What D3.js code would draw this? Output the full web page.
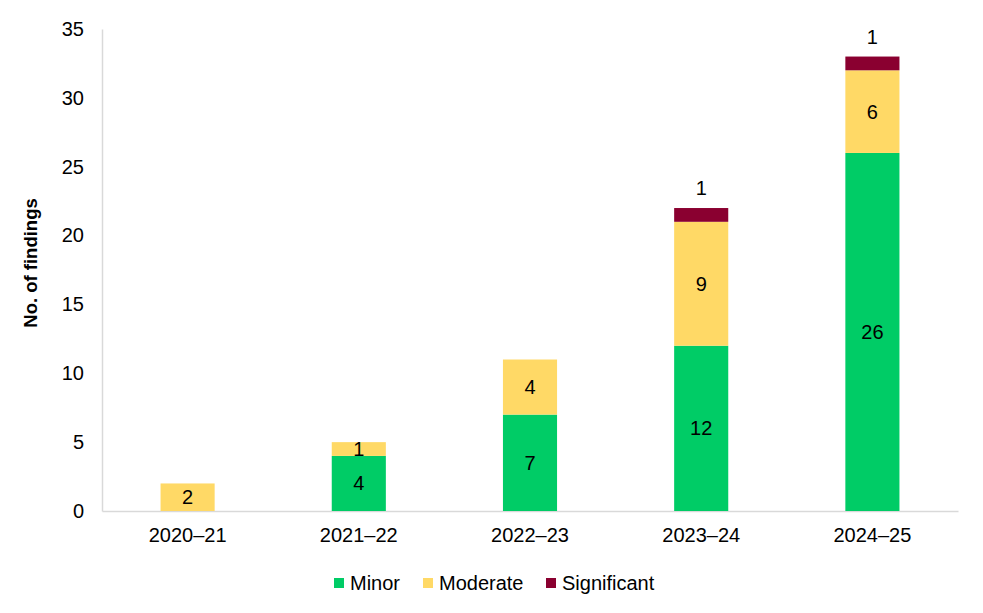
<!DOCTYPE html>
<html>
<head>
<meta charset="utf-8">
<script src="https://cdn.jsdelivr.net/npm/d3@7"></script>
<style>
  body { margin: 0; background: #fff; }
  text { font-family: "Liberation Sans", Arial, sans-serif; fill: #000; }
</style>
</head>
<body>
<svg id="chart" width="983" height="613"></svg>
<script>
// Chart data
var years = ['2020–21', '2021–22', '2022–23', '2023–24', '2024–25'];
var series = ['Minor', 'Moderate', 'Significant'];
var minor = [0, 4, 7, 12, 26];
var moderate = [2, 1, 4, 9, 6];
var significant = [0, 0, 0, 1, 1];
var yTicks = [0, 5, 10, 15, 20, 25, 30, 35];
var colors = ['#00CC66', '#FFD966', '#8A0030'];

var svg = d3.select('#chart');
var margin = {left: 102, right: 25, top: 29, bottom: 102};
var width = 983 - margin.left - margin.right;
var height = 613 - margin.top - margin.bottom;

var g = svg.append('g')
    .attr('transform', 'translate(' + margin.left + ',' + margin.top + ')');

var x = d3.scaleBand().domain(years).range([0, width]).paddingInner(0.684).paddingOuter(0.342);
var y = d3.scaleLinear().domain([0, 35]).range([height, 0]);

// Build rows for the stack
var rows = years.map(function (yr, i) {
    return {year: yr, Minor: minor[i], Moderate: moderate[i], Significant: significant[i]};
});
var stacked = d3.stack().keys(series)(rows);

// Y axis
var yAxis = g.append('g')
    .call(d3.axisLeft(y).tickValues(yTicks).tickSize(0).tickPadding(18));
yAxis.select('.domain').attr('stroke', '#d9d9d9').attr('stroke-width', 1.5);
yAxis.selectAll('text').attr('font-size', '20px').attr('font-family', '"Liberation Sans", Arial, sans-serif');

// X axis
var xAxis = g.append('g')
    .attr('transform', 'translate(0,' + height + ')')
    .call(d3.axisBottom(x).tickSize(0).tickPadding(17));
xAxis.select('.domain').attr('stroke', '#d9d9d9').attr('stroke-width', 1.5);
xAxis.selectAll('text').attr('font-size', '20px').attr('font-family', '"Liberation Sans", Arial, sans-serif');

// Bars
var layers = g.selectAll('.layer')
    .data(stacked)
    .enter()
    .append('g')
    .attr('class', 'layer')
    .attr('fill', function (d, i) { return colors[i]; });

layers.selectAll('rect')
    .data(function (d) { return d; })
    .enter()
    .append('rect')
    .attr('x', function (d) { return x(d.data.year); })
    .attr('width', x.bandwidth())
    .attr('y', function (d) { return y(d[1]); })
    .attr('height', function (d) { return y(d[0]) - y(d[1]); });

// Value labels
layers.each(function (layer, li) {
    d3.select(this).selectAll('text')
        .data(layer.filter(function (d) { return d[1] - d[0] > 0; }))
        .enter()
        .append('text')
        .attr('x', function (d) { return x(d.data.year) + x.bandwidth() / 2; })
        .attr('y', function (d) {
            // Significant labels sit above the bar
            if (li === 2) return y(d[1]) - 20;
            return (y(d[0]) + y(d[1])) / 2;
        })
        .attr('dy', '.35em')
        .attr('text-anchor', 'middle')
        .attr('font-size', '20px')
        .style('fill', '#000')
        .text(function (d) { return d[1] - d[0]; });
});

// Y axis title
svg.append('text')
    .attr('transform', 'translate(31,263) rotate(-90)')
    .attr('text-anchor', 'middle')
    .attr('dy', '.35em')
    .attr('font-size', '18.5px')
    .attr('font-weight', 'bold')
    .text('No. of findings');

// Legend
var legendX = [334, 423, 546];
var legend = svg.append('g').selectAll('g')
    .data(series)
    .enter()
    .append('g')
    .attr('transform', function (d, i) { return 'translate(' + legendX[i] + ',583)'; });
legend.append('rect')
    .attr('x', 0).attr('y', -5)
    .attr('width', 10).attr('height', 10)
    .attr('fill', function (d, i) { return colors[i]; });
legend.append('text')
    .attr('x', 16).attr('dy', '.35em')
    .attr('font-size', '20px')
    .text(function (d) { return d; });
</script>
</body>
</html>
